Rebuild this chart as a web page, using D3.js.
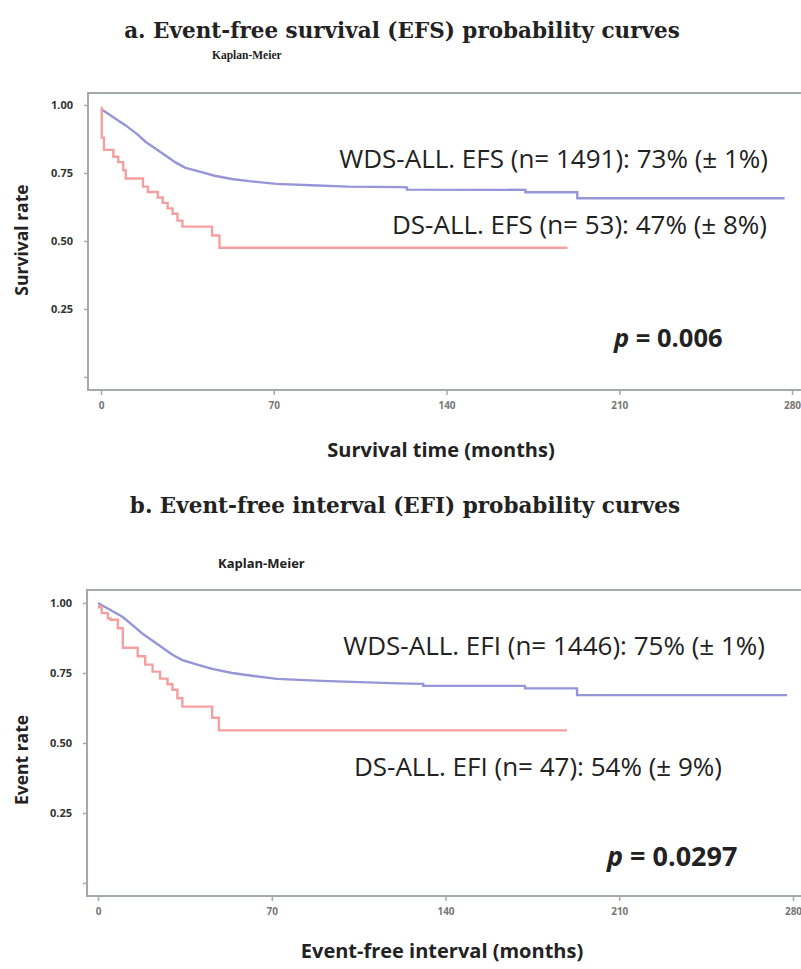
<!DOCTYPE html>
<html>
<head>
<meta charset="utf-8">
<script src="https://cdn.jsdelivr.net/npm/d3@7"></script>
<style>
  body { margin: 0; background: #fff; }
  svg text { fill: #222; }
</style>
</head>
<body>
<div id="chart"></div>
<script>
// tick values shared by both panels
const xTicks = [0, 70, 140, 210, 280];
const yTicks = [0, 0.25, 0.5, 0.75, 1];

// panel a: EFS  (WDS curve is dense, read as a line; repeated times are the visible drops)
const efsWdsTime = [0, 5, 10, 15, 18, 22, 26, 30, 34, 40, 46, 53, 60, 71, 85, 100, 121, 124, 124, 172, 172, 193, 193, 277];
const efsWdsRate = [0.985, 0.955, 0.925, 0.89, 0.865, 0.84, 0.815, 0.79, 0.77, 0.755, 0.74, 0.728, 0.72, 0.71, 0.705, 0.70, 0.698, 0.697, 0.689, 0.688, 0.679, 0.679, 0.657, 0.657];
const efsDsTime = [0, 0.3, 1.2, 5, 7, 9, 10, 17, 19, 23, 25, 27, 29, 31, 33, 45, 48, 189];
const efsDsRate = [0.99, 0.88, 0.835, 0.81, 0.79, 0.76, 0.73, 0.70, 0.68, 0.66, 0.64, 0.62, 0.60, 0.575, 0.553, 0.52, 0.475, 0.475];

// panel b: EFI
const efiWdsTime = [0, 5, 10, 14, 18, 22, 26, 30, 34, 40, 46, 54, 62, 72, 90, 121, 131, 131, 172, 172, 193, 193, 277.6];
const efiWdsRate = [1.0, 0.975, 0.95, 0.92, 0.89, 0.865, 0.84, 0.815, 0.796, 0.78, 0.765, 0.75, 0.74, 0.729, 0.722, 0.713, 0.711, 0.704, 0.704, 0.695, 0.695, 0.671, 0.671];
const efiDsTime = [0, 0.5, 1.5, 4, 5, 8, 10, 16, 19, 22, 25, 28, 30, 32, 34, 46, 48.7, 189];
const efiDsRate = [0.99, 0.985, 0.964, 0.945, 0.94, 0.91, 0.84, 0.81, 0.78, 0.755, 0.73, 0.71, 0.69, 0.66, 0.63, 0.59, 0.545, 0.545];

const W = 801, H = 969;
const blue = "#9595d8", red = "#f4a0a0", axisGray = "#a3aba7";
const sans = "'Open Sans', 'Noto Sans', sans-serif";
const serif = "'DejaVu Serif', 'Liberation Serif', serif";

const svg = d3.select("#chart").append("svg")
    .attr("width", W)
    .attr("height", H);

function zip(ts, vs) { return ts.map((t, i) => [t, vs[i]]); }

function drawPanel(p) {
    const g = svg.append("g");

    // titles
    g.append("text")
        .attr("x", p.titleX).attr("y", p.titleY)
        .attr("text-anchor", "middle")
        .style("font-family", serif).style("font-weight", "bold").style("font-size", "21.5px")
        .text(p.title);
    g.append("text")
        .attr("x", p.kmX).attr("y", p.kmY)
        .style("font-family", p.kmFont).style("font-weight", "bold").style("font-size", p.kmSize)
        .text("Kaplan-Meier");

    const x = d3.scaleLinear().domain([0, 280]).range(p.xRange);
    const y = d3.scaleLinear().domain([0, 1]).range(p.yRange);

    // frame (left, top, bottom) - right side is cut off
    g.append("path")
        .attr("d", `M${W},${p.frameTop}H${p.frameLeft}V${p.frameBottom}H${W}`)
        .attr("fill", "none")
        .attr("stroke", axisGray)
        .attr("stroke-width", 2);

    // y axis ticks
    const yAxis = g.append("g")
        .attr("transform", `translate(${p.frameLeft},0)`)
        .call(d3.axisLeft(y).tickValues(yTicks).tickSize(4)
            .tickFormat(d => d === 0 ? "" : d3.format(".2f")(d)));
    yAxis.select(".domain").remove();
    yAxis.selectAll("line").attr("stroke", axisGray).attr("stroke-width", 1.5);
    yAxis.selectAll("text")
        .attr("x", -15)
        .style("font-family", sans).style("font-weight", "bold").style("font-size", "11px")
        .style("fill", "#333");

    // x axis ticks
    const xAxis = g.append("g")
        .attr("transform", `translate(0,${p.frameBottom})`)
        .call(d3.axisBottom(x).tickValues(xTicks).tickSize(5));
    xAxis.select(".domain").remove();
    xAxis.selectAll("line").attr("stroke", axisGray).attr("stroke-width", 1.5);
    xAxis.selectAll("text")
        .attr("y", 12)
        .style("font-family", sans).style("font-weight", "bold").style("font-size", "10px")
        .style("fill", "#777");

    // axis titles
    g.append("text")
        .attr("x", p.xLabelX).attr("y", p.xLabelY)
        .attr("text-anchor", "middle")
        .style("font-family", sans).style("font-weight", "bold").style("font-size", "20px")
        .text(p.xLabel);
    g.append("text")
        .attr("transform", `translate(${p.yLabelX},${p.yLabelY}) rotate(-90)`)
        .attr("text-anchor", "middle")
        .style("font-family", sans).style("font-weight", "bold").style("font-size", "17.5px")
        .text(p.yLabel);

    // survival curves
    p.curves.forEach(c => {
        const line = d3.line()
            .x(d => x(d[0]))
            .y(d => y(d[1]))
            .curve(c.step ? d3.curveStepAfter : d3.curveLinear);
        g.append("path")
            .datum(zip(c.time, c.rate))
            .attr("d", line)
            .attr("fill", "none")
            .attr("stroke", c.color)
            .attr("stroke-width", 2.4);
    });

    // annotations
    p.notes.forEach(n => {
        g.append("text")
            .attr("x", n.x).attr("y", n.y)
            .attr("text-anchor", n.anchor)
            .style("font-family", sans).style("font-size", "26px")
            .text(n.text);
    });
    const pt = g.append("text")
        .attr("x", p.pX).attr("y", p.pY)
        .style("font-family", sans).style("font-weight", "bold").style("font-size", p.pSize);
    pt.append("tspan").style("font-style", "italic").text("p");
    pt.append("tspan").text(" = " + p.pValue);
}

drawPanel({
    title: "a. Event-free survival (EFS) probability curves", titleX: 402, titleY: 38,
    kmX: 212, kmY: 59, kmFont: "'Liberation Serif', serif", kmSize: "11.5px",
    frameTop: 93, frameLeft: 88, frameBottom: 390,
    xRange: [101, 792], yRange: [377, 105],
    xLabel: "Survival time (months)", xLabelX: 441, xLabelY: 457,
    yLabel: "Survival rate", yLabelX: 28, yLabelY: 240,
    curves: [
        { time: efsWdsTime, rate: efsWdsRate, color: blue, step: false },
        { time: efsDsTime, rate: efsDsRate, color: red, step: true }
    ],
    notes: [
        { text: "WDS-ALL. EFS (n= 1491): 73% (\u00b1 1%)", x: 768, y: 168, anchor: "end" },
        { text: "DS-ALL. EFS (n= 53): 47% (\u00b1 8%)", x: 767, y: 234, anchor: "end" }
    ],
    pX: 614, pY: 347, pSize: "25.5px", pValue: "0.006"
});

drawPanel({
    title: "b. Event-free interval (EFI) probability curves", titleX: 405, titleY: 513,
    kmX: 218, kmY: 568, kmFont: sans, kmSize: "13px",
    frameTop: 590, frameLeft: 87, frameBottom: 896,
    xRange: [98, 793], yRange: [883, 603],
    xLabel: "Event-free interval (months)", xLabelX: 442, xLabelY: 958,
    yLabel: "Event rate", yLabelX: 28, yLabelY: 760,
    curves: [
        { time: efiWdsTime, rate: efiWdsRate, color: blue, step: false },
        { time: efiDsTime, rate: efiDsRate, color: red, step: true }
    ],
    notes: [
        { text: "WDS-ALL. EFI (n= 1446): 75% (\u00b1 1%)", x: 765, y: 655, anchor: "end" },
        { text: "DS-ALL. EFI (n= 47): 54% (\u00b1 9%)", x: 722, y: 776, anchor: "end" }
    ],
    pX: 607, pY: 866, pSize: "27px", pValue: "0.0297"
});
</script>
</body>
</html>
